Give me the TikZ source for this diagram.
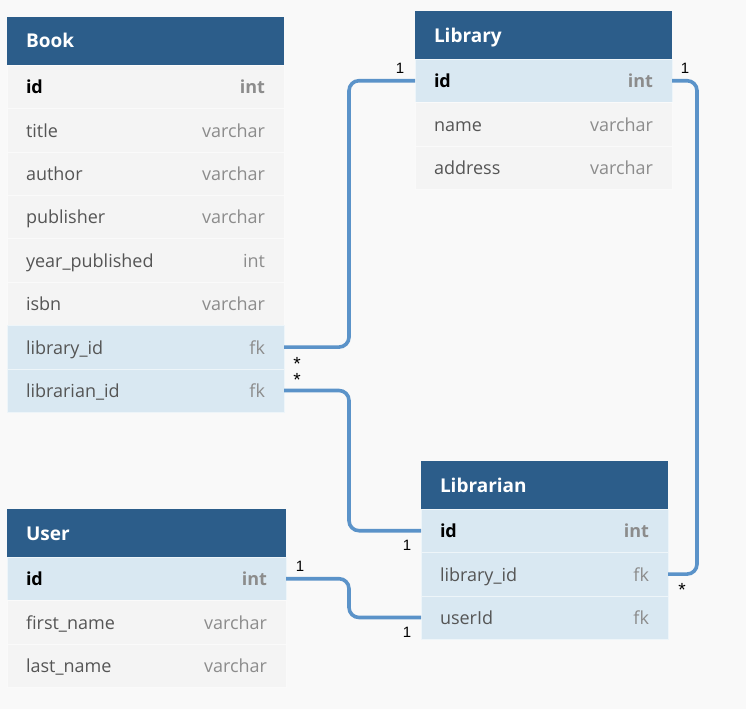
\documentclass[tikz,border=0pt]{standalone}
\usepackage{fontspec}
\setmainfont{Open Sans}
\newfontfamily\cardfont{Liberation Sans}
\usepackage{tikz}
\usetikzlibrary{positioning}

\definecolor{headblue}{HTML}{2C5D8A}
\definecolor{rowgray}{HTML}{F4F4F4}
\definecolor{rowblue}{HTML}{D9E8F2}
\definecolor{linkblue}{HTML}{5B93C9}
\definecolor{canvas}{HTML}{F9F9F9}
\definecolor{namegray}{HTML}{555555}
\definecolor{typegray}{HTML}{8C8C8C}

% field type on the right of a row
\newcommand{\ftype}[1]{\hfill\textcolor{typegray}{#1}}
\newcommand{\pkey}[2]{{\bfseries\color{black}#1}\hfill\textcolor{typegray}{\bfseries #2}}
\newcommand{\manymark}{\raisebox{-8.2pt}{*}}

\tikzset{
  tblhead/.style={anchor=north west, fill=headblue, text=white, outer sep=0pt,
    inner xsep=19pt, inner ysep=0pt, minimum height=48pt, align=left,
    font=\fontsize{19}{22}\selectfont\bfseries, text height=16pt, text depth=2pt},
  tblrow/.style={fill=#1, draw=white!55!#1, line width=.6pt, outer sep=0pt,
    inner xsep=19pt, inner ysep=0pt, minimum height=43.4pt, align=left,
    text=namegray, font=\fontsize{18}{21}\selectfont, text height=16pt, text depth=2pt},
  field/.style={tblrow=rowgray},
  keyfield/.style={tblrow=rowblue},
  link/.style={draw=linkblue, line width=3.6pt, rounded corners=10pt},
  card/.style={inner sep=0pt, font=\cardfont\fontsize{15}{17}\selectfont,
    text height=11pt, text depth=0pt},
  many/.style={card, font=\cardfont\fontsize{19}{21}\selectfont, text height=6pt}
}

\begin{document}
\begin{tikzpicture}[x=1pt, y=-1pt]
    \useasboundingbox[fill=canvas] (0,0) rectangle (746,709);

    % Book
    \begin{scope}[every node/.append style={text width=239pt}]
    \node[tblhead] (book) at (7,17) {Book};
    \node[field, below=0pt of book] (book-id) {\pkey{id}{int}};
    \node[field, below=0pt of book-id] (book-title) {title\ftype{varchar}};
    \node[field, below=0pt of book-title] (book-author) {author\ftype{varchar}};
    \node[field, below=0pt of book-author] (book-pub) {publisher\ftype{varchar}};
    \node[field, below=0pt of book-pub] (book-year) {year\_published\ftype{int}};
    \node[field, below=0pt of book-year] (book-isbn) {isbn\ftype{varchar}};
    \node[keyfield, below=0pt of book-isbn] (book-libid) {library\_id\ftype{fk}};
    \node[keyfield, below=0pt of book-libid] (book-lbnid) {librarian\_id\ftype{fk}};
    \end{scope}

    % Library
    \begin{scope}[every node/.append style={text width=219pt}]
    \node[tblhead] (lib) at (415,11) {Library};
    \node[keyfield, below=0pt of lib] (lib-id) {\pkey{id}{int}};
    \node[field, below=0pt of lib-id] (lib-name) {name\ftype{varchar}};
    \node[field, below=0pt of lib-name] (lib-addr) {address\ftype{varchar}};
    \end{scope}

    % Librarian
    \begin{scope}[every node/.append style={text width=209pt}]
    \node[tblhead] (lbn) at (421,461) {Librarian};
    \node[keyfield, below=0pt of lbn] (lbn-id) {\pkey{id}{int}};
    \node[keyfield, below=0pt of lbn-id] (lbn-libid) {library\_id\ftype{fk}};
    \node[keyfield, below=0pt of lbn-libid] (lbn-userid) {userId\ftype{fk}};
    \end{scope}

    % User
    \begin{scope}[every node/.append style={text width=241pt}]
    \node[tblhead] (user) at (7,509) {User};
    \node[keyfield, below=0pt of user] (user-id) {\pkey{id}{int}};
    \node[field, below=0pt of user-id] (user-first) {first\_name\ftype{varchar}};
    \node[field, below=0pt of user-first] (user-last) {last\_name\ftype{varchar}};
    \end{scope}

    % references
    \draw[link] (book-libid.east) -- ++(65,0) |- (lib-id.west);
    \draw[link] (book-lbnid.east) -- ++(65,0) |- (lbn-id.west);
    \draw[link] (lib-id.east) -- ++(25,0) |- (lbn-libid.east);
    \draw[link] (user-id.east) -- ++(63,0) |- (lbn-userid.west);

    \node[many] at ([shift={(13,12.5)}]book-libid.east) {\manymark};
    \node[card] at ([shift={(-15,-13)}]lib-id.west) {1};
    \node[many] at ([shift={(13,-15)}]book-lbnid.east) {\manymark};
    \node[card] at ([shift={(-14,14)}]lbn-id.west) {1};
    \node[card] at ([shift={(13,-13)}]lib-id.east) {1};
    \node[many] at ([shift={(14,11.5)}]lbn-libid.east) {\manymark};
    \node[card] at ([shift={(14,-13)}]user-id.east) {1};
    \node[card] at ([shift={(-14,14.5)}]lbn-userid.west) {1};
\end{tikzpicture}
\end{document}
